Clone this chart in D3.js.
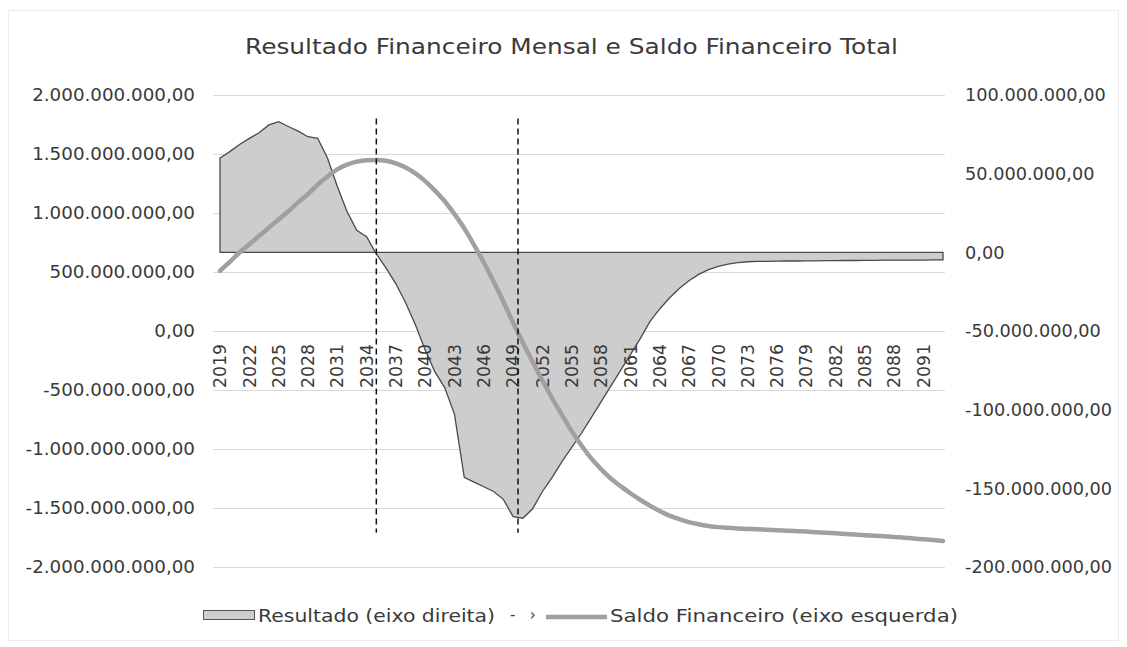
<!DOCTYPE html>
<html>
<head>
<meta charset="utf-8">
<script src="https://cdn.jsdelivr.net/npm/d3@7"></script>
<style>
  body { margin: 0; background: #fff; }
  text { font-family: "DejaVu Sans", sans-serif; fill: #3a3a3a; }
</style>
</head>
<body>
<div id="chart"></div>
<script>
// years 2019..2093
const years = d3.range(2019, 2094);

// Resultado (eixo direita), in millions
const resultado = [
  60, 64, 68.5, 72.4, 76, 81, 83, 80, 77, 73.5,
  72.5, 60, 42, 26, 14, 10, -1, -10, -20, -32,
  -46, -62, -76, -86, -103, -143, -146, -149, -152, -157,
  -168, -169, -163, -152, -143, -133, -124, -115, -105, -95,
  -85, -75, -65, -55, -44, -36, -29, -23, -18, -14,
  -11, -9, -7.5, -6.5, -6, -5.8, -5.7, -5.6, -5.5, -5.5,
  -5.4, -5.4, -5.3, -5.3, -5.2, -5.2, -5.1, -5.1, -5, -5,
  -5, -4.9, -4.9, -4.8, -4.8
];

// Saldo Financeiro (eixo esquerda), in billions
const saldo = [
  0.51, 0.585, 0.665, 0.735, 0.805, 0.875, 0.945, 1.015, 1.09, 1.16,
  1.24, 1.31, 1.37, 1.41, 1.435, 1.448, 1.45, 1.443, 1.42, 1.385,
  1.335, 1.27, 1.19, 1.10, 0.99, 0.87, 0.73, 0.58, 0.42, 0.25,
  0.07, -0.10, -0.26, -0.42, -0.57, -0.71, -0.85, -0.97, -1.08, -1.17,
  -1.25, -1.315, -1.375, -1.43, -1.48, -1.525, -1.565, -1.595, -1.62, -1.638,
  -1.652, -1.662, -1.668, -1.673, -1.677, -1.68, -1.684, -1.688, -1.692, -1.696,
  -1.70, -1.705, -1.71, -1.715, -1.72, -1.725, -1.73, -1.735, -1.74, -1.745,
  -1.752, -1.758, -1.765, -1.772, -1.78
];

const tickYears = d3.range(2019, 2094, 3);
const leftTicks = [2e9, 1.5e9, 1e9, 5e8, 0, -5e8, -1e9, -1.5e9, -2e9];
const rightTicks = [1e8, 5e7, 0, -5e7, -1e8, -1.5e8, -2e8];
const markerYears = [2035, 2049.5];
const markerSpan = [1.8e9, -1.71e9];

const W = 1127, H = 647;
const svg = d3.select("#chart").append("svg")
  .attr("width", W).attr("height", H);

// faint frame
svg.append("rect")
  .attr("x", 8.5).attr("y", 10.5).attr("width", 1110).attr("height", 630)
  .attr("fill", "none").attr("stroke", "#ececec");

const x = d3.scaleLinear().domain([2019, 2093]).range([220, 943]);
const yL = d3.scaleLinear().domain([-2e9, 2e9]).range([567, 95]);
const yR = d3.scaleLinear().domain([-2e8, 1e8]).range([567, 95]);

const br = d3.formatLocale({ decimal: ",", thousands: ".", grouping: [3], currency: ["R$", ""], minus: "-" });
const fmt = br.format(",.2f");

// gridlines
svg.append("g").selectAll("line")
  .data(leftTicks).enter().append("line")
  .attr("x1", 213).attr("x2", 945)
  .attr("y1", d => yL(d) + 0.5).attr("y2", d => yL(d) + 0.5)
  .attr("stroke", "#dadada");

// left axis
svg.append("g")
  .attr("transform", "translate(200,0)")
  .call(d3.axisLeft(yL).tickValues(leftTicks).tickFormat(fmt).tickSize(0).tickPadding(5))
  .call(g => g.select(".domain").remove())
  .selectAll("text")
  .style("font-size", "18.3px").style("font-family", "DejaVu Sans").attr("fill", "#3a3a3a");

// right axis
svg.append("g")
  .attr("transform", "translate(962,0)")
  .call(d3.axisRight(yR).tickValues(rightTicks).tickFormat(fmt).tickSize(0).tickPadding(3))
  .call(g => g.select(".domain").remove())
  .selectAll("text")
  .style("font-size", "17.7px").style("font-family", "DejaVu Sans").attr("fill", "#3a3a3a");

const data = years.map((yr, i) => ({ year: yr, res: resultado[i] * 1e6, saldo: saldo[i] * 1e9 }));

// area (right axis)
const area = d3.area()
  .x(d => x(d.year))
  .y0(yR(0))
  .y1(d => yR(d.res));

svg.append("path")
  .datum(data)
  .attr("d", area)
  .attr("fill", "#cdcdcd")
  .attr("stroke", "#4a4a4a")
  .attr("stroke-width", 1.3);

// x labels (category axis)
svg.append("g").selectAll("text")
  .data(tickYears).enter().append("text")
  .attr("transform", d => `translate(${x(d)},344) rotate(-90)`)
  .attr("text-anchor", "end")
  .attr("dy", "0.36em")
  .style("font-size", "17.3px")
  .text(d => d);

// saldo line (left axis)
const line = d3.line()
  .x(d => x(d.year))
  .y(d => yL(d.saldo))
  .curve(d3.curveMonotoneX);

svg.append("path")
  .datum(data)
  .attr("d", line)
  .attr("fill", "none")
  .attr("stroke", "#a0a0a0")
  .attr("stroke-width", 4.5)
  .attr("stroke-linecap", "round");

// dashed markers
svg.append("g").selectAll("line")
  .data(markerYears).enter().append("line")
  .attr("x1", d => x(d)).attr("x2", d => x(d))
  .attr("y1", yL(markerSpan[0])).attr("y2", yL(markerSpan[1]))
  .attr("stroke", "#111")
  .attr("stroke-width", 1.5)
  .attr("stroke-dasharray", "6,4");

// title
svg.append("text")
  .attr("x", 245).attr("y", 54)
  .attr("textLength", 653).attr("lengthAdjust", "spacingAndGlyphs")
  .style("font-size", "21.5px")
  .text("Resultado Financeiro Mensal e Saldo Financeiro Total");

// legend
const leg = svg.append("g");
leg.append("rect")
  .attr("x", 203.5).attr("y", 610.5).attr("width", 51).attr("height", 9)
  .attr("fill", "#cdcdcd").attr("stroke", "#555");
leg.append("text")
  .attr("x", 258).attr("y", 622)
  .attr("textLength", 237).attr("lengthAdjust", "spacingAndGlyphs")
  .style("font-size", "18.5px")
  .text("Resultado (eixo direita)");
leg.append("text")
  .attr("x", 510).attr("y", 620)
  .style("font-size", "15px").attr("fill", "#aaa")
  .attr("xml:space", "preserve")
  .text("-   \u203A");
leg.append("line")
  .attr("x1", 546).attr("x2", 607).attr("y1", 617).attr("y2", 617)
  .attr("stroke", "#a0a0a0").attr("stroke-width", 4.5);
leg.append("text")
  .attr("x", 610).attr("y", 622)
  .attr("textLength", 348).attr("lengthAdjust", "spacingAndGlyphs")
  .style("font-size", "18.5px")
  .text("Saldo Financeiro (eixo esquerda)");
</script>
</body>
</html>
